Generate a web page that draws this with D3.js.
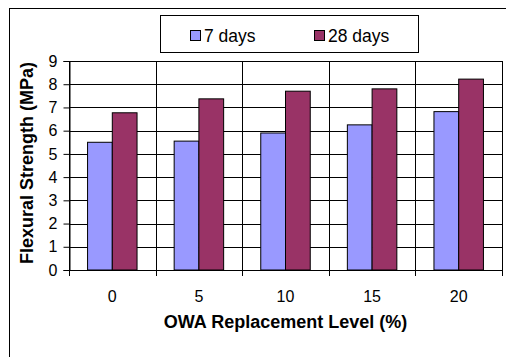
<!DOCTYPE html>
<html>
<head>
<meta charset="utf-8">
<script src="https://cdn.jsdelivr.net/npm/d3@7"></script>
<style>
  body { margin: 0; background: #fff; }
  text { font-family: Arial, 'Liberation Sans', sans-serif; fill: #000; }
</style>
</head>
<body>
<div id="container"></div>
<script>
var categories = ['0', '5', '10', '15', '20'];
var seriesNames = ['7 days', '28 days'];
var days7 = [5.5, 5.55, 5.9, 6.25, 6.82];
var days28 = [6.77, 7.37, 7.7, 7.8, 8.22];
var yTicks = [0, 1, 2, 3, 4, 5, 6, 7, 8, 9];
var colors = ['#9999ff', '#993366'];

var width = 506,
    height = 357,
    margin = { left: 69, right: 4, top: 61, bottom: 87 };

var svg = d3.select('#container')
    .append('svg')
    .attr('width', width)
    .attr('height', height);

svg.append('rect')
    .attr('width', width)
    .attr('height', height)
    .attr('fill', '#fff');

// outer chart frame (runs off right and bottom)
svg.append('rect')
    .attr('x', 9.5)
    .attr('y', 8.5)
    .attr('width', 510)
    .attr('height', 360)
    .attr('fill', 'none')
    .attr('stroke', '#000');

var x = d3.scaleBand()
    .domain(categories)
    .range([margin.left, width - margin.right]);

var xInner = d3.scaleBand()
    .domain(seriesNames)
    .range([0, x.bandwidth()])
    .paddingOuter(0.75);

var y = d3.scaleLinear()
    .domain([0, 9])
    .range([height - margin.bottom, margin.top]);

var data = categories.map(function(c, i) {
    return { cat: c, values: [days7[i], days28[i]] };
});

// horizontal gridlines
svg.append('g')
    .selectAll('line')
    .data(yTicks)
    .enter()
    .append('line')
    .attr('x1', margin.left)
    .attr('x2', width - margin.right)
    .attr('y1', function(d) { return Math.round(y(d)) + 0.5; })
    .attr('y2', function(d) { return Math.round(y(d)) + 0.5; })
    .attr('stroke', '#000');

// vertical gridlines at category boundaries
var bounds = categories.map(function(c) { return x(c); }).concat([width - margin.right]);
svg.append('g')
    .selectAll('line')
    .data(bounds)
    .enter()
    .append('line')
    .attr('x1', function(d) { return Math.round(d) + 0.5; })
    .attr('x2', function(d) { return Math.round(d) + 0.5; })
    .attr('y1', y(9))
    .attr('y2', y(0) + 6)
    .attr('stroke', '#000');

// bars
var groups = svg.append('g')
    .selectAll('g')
    .data(data)
    .enter()
    .append('g')
    .attr('transform', function(d) { return 'translate(' + x(d.cat) + ',0)'; });

groups.selectAll('rect')
    .data(function(d) {
        return d.values.map(function(v, i) { return { name: seriesNames[i], value: v, i: i }; });
    })
    .enter()
    .append('rect')
    .attr('x', function(d) { return xInner(d.name); })
    .attr('y', function(d) { return y(d.value); })
    .attr('width', xInner.bandwidth())
    .attr('height', function(d) { return y(0) - y(d.value); })
    .attr('fill', function(d) { return colors[d.i]; })
    .attr('stroke', '#000');

// y axis
var yAxis = svg.append('g')
    .attr('transform', 'translate(' + (margin.left + 0.5) + ',0)')
    .call(d3.axisLeft(y).tickValues(yTicks).tickSize(6).tickPadding(6));
yAxis.selectAll('text').style('font-size', '16px');
yAxis.selectAll('line, path').attr('stroke', '#000');

// x axis line
svg.append('line')
    .attr('x1', margin.left)
    .attr('x2', width - margin.right)
    .attr('y1', Math.round(y(0)) + 0.5)
    .attr('y2', Math.round(y(0)) + 0.5)
    .attr('stroke', '#000');

svg.append('g')
    .selectAll('text')
    .data(categories)
    .enter()
    .append('text')
    .attr('x', function(d) { return x(d) + x.bandwidth() / 2; })
    .attr('y', 302)
    .attr('text-anchor', 'middle')
    .style('font-size', '16px')
    .text(function(d) { return d; });

// axis titles
svg.append('text')
    .attr('x', 285.5)
    .attr('y', 328)
    .attr('text-anchor', 'middle')
    .style('font-size', '18px')
    .style('font-weight', 'bold')
    .text('OWA Replacement Level (%)');

svg.append('text')
    .attr('transform', 'translate(33,163) rotate(-90)')
    .attr('text-anchor', 'middle')
    .style('font-size', '18px')
    .style('font-weight', 'bold')
    .text('Flexural Strength (MPa)');

// legend
var legend = svg.append('g');
legend.append('rect')
    .attr('x', 160.5)
    .attr('y', 15.5)
    .attr('width', 258)
    .attr('height', 37)
    .attr('fill', '#fff')
    .attr('stroke', '#000');

var legendX = [190, 314];
var items = legend.selectAll('g')
    .data(seriesNames)
    .enter()
    .append('g')
    .attr('transform', function(d, i) { return 'translate(' + legendX[i] + ',0)'; });
items.append('rect')
    .attr('x', 0.5)
    .attr('y', 30.5)
    .attr('width', 10)
    .attr('height', 10)
    .attr('fill', function(d, i) { return colors[i]; })
    .attr('stroke', '#000');
items.append('text')
    .attr('x', 14)
    .attr('y', 41.5)
    .style('font-size', '17.5px')
    .text(function(d) { return d; });
</script>
</body>
</html>
